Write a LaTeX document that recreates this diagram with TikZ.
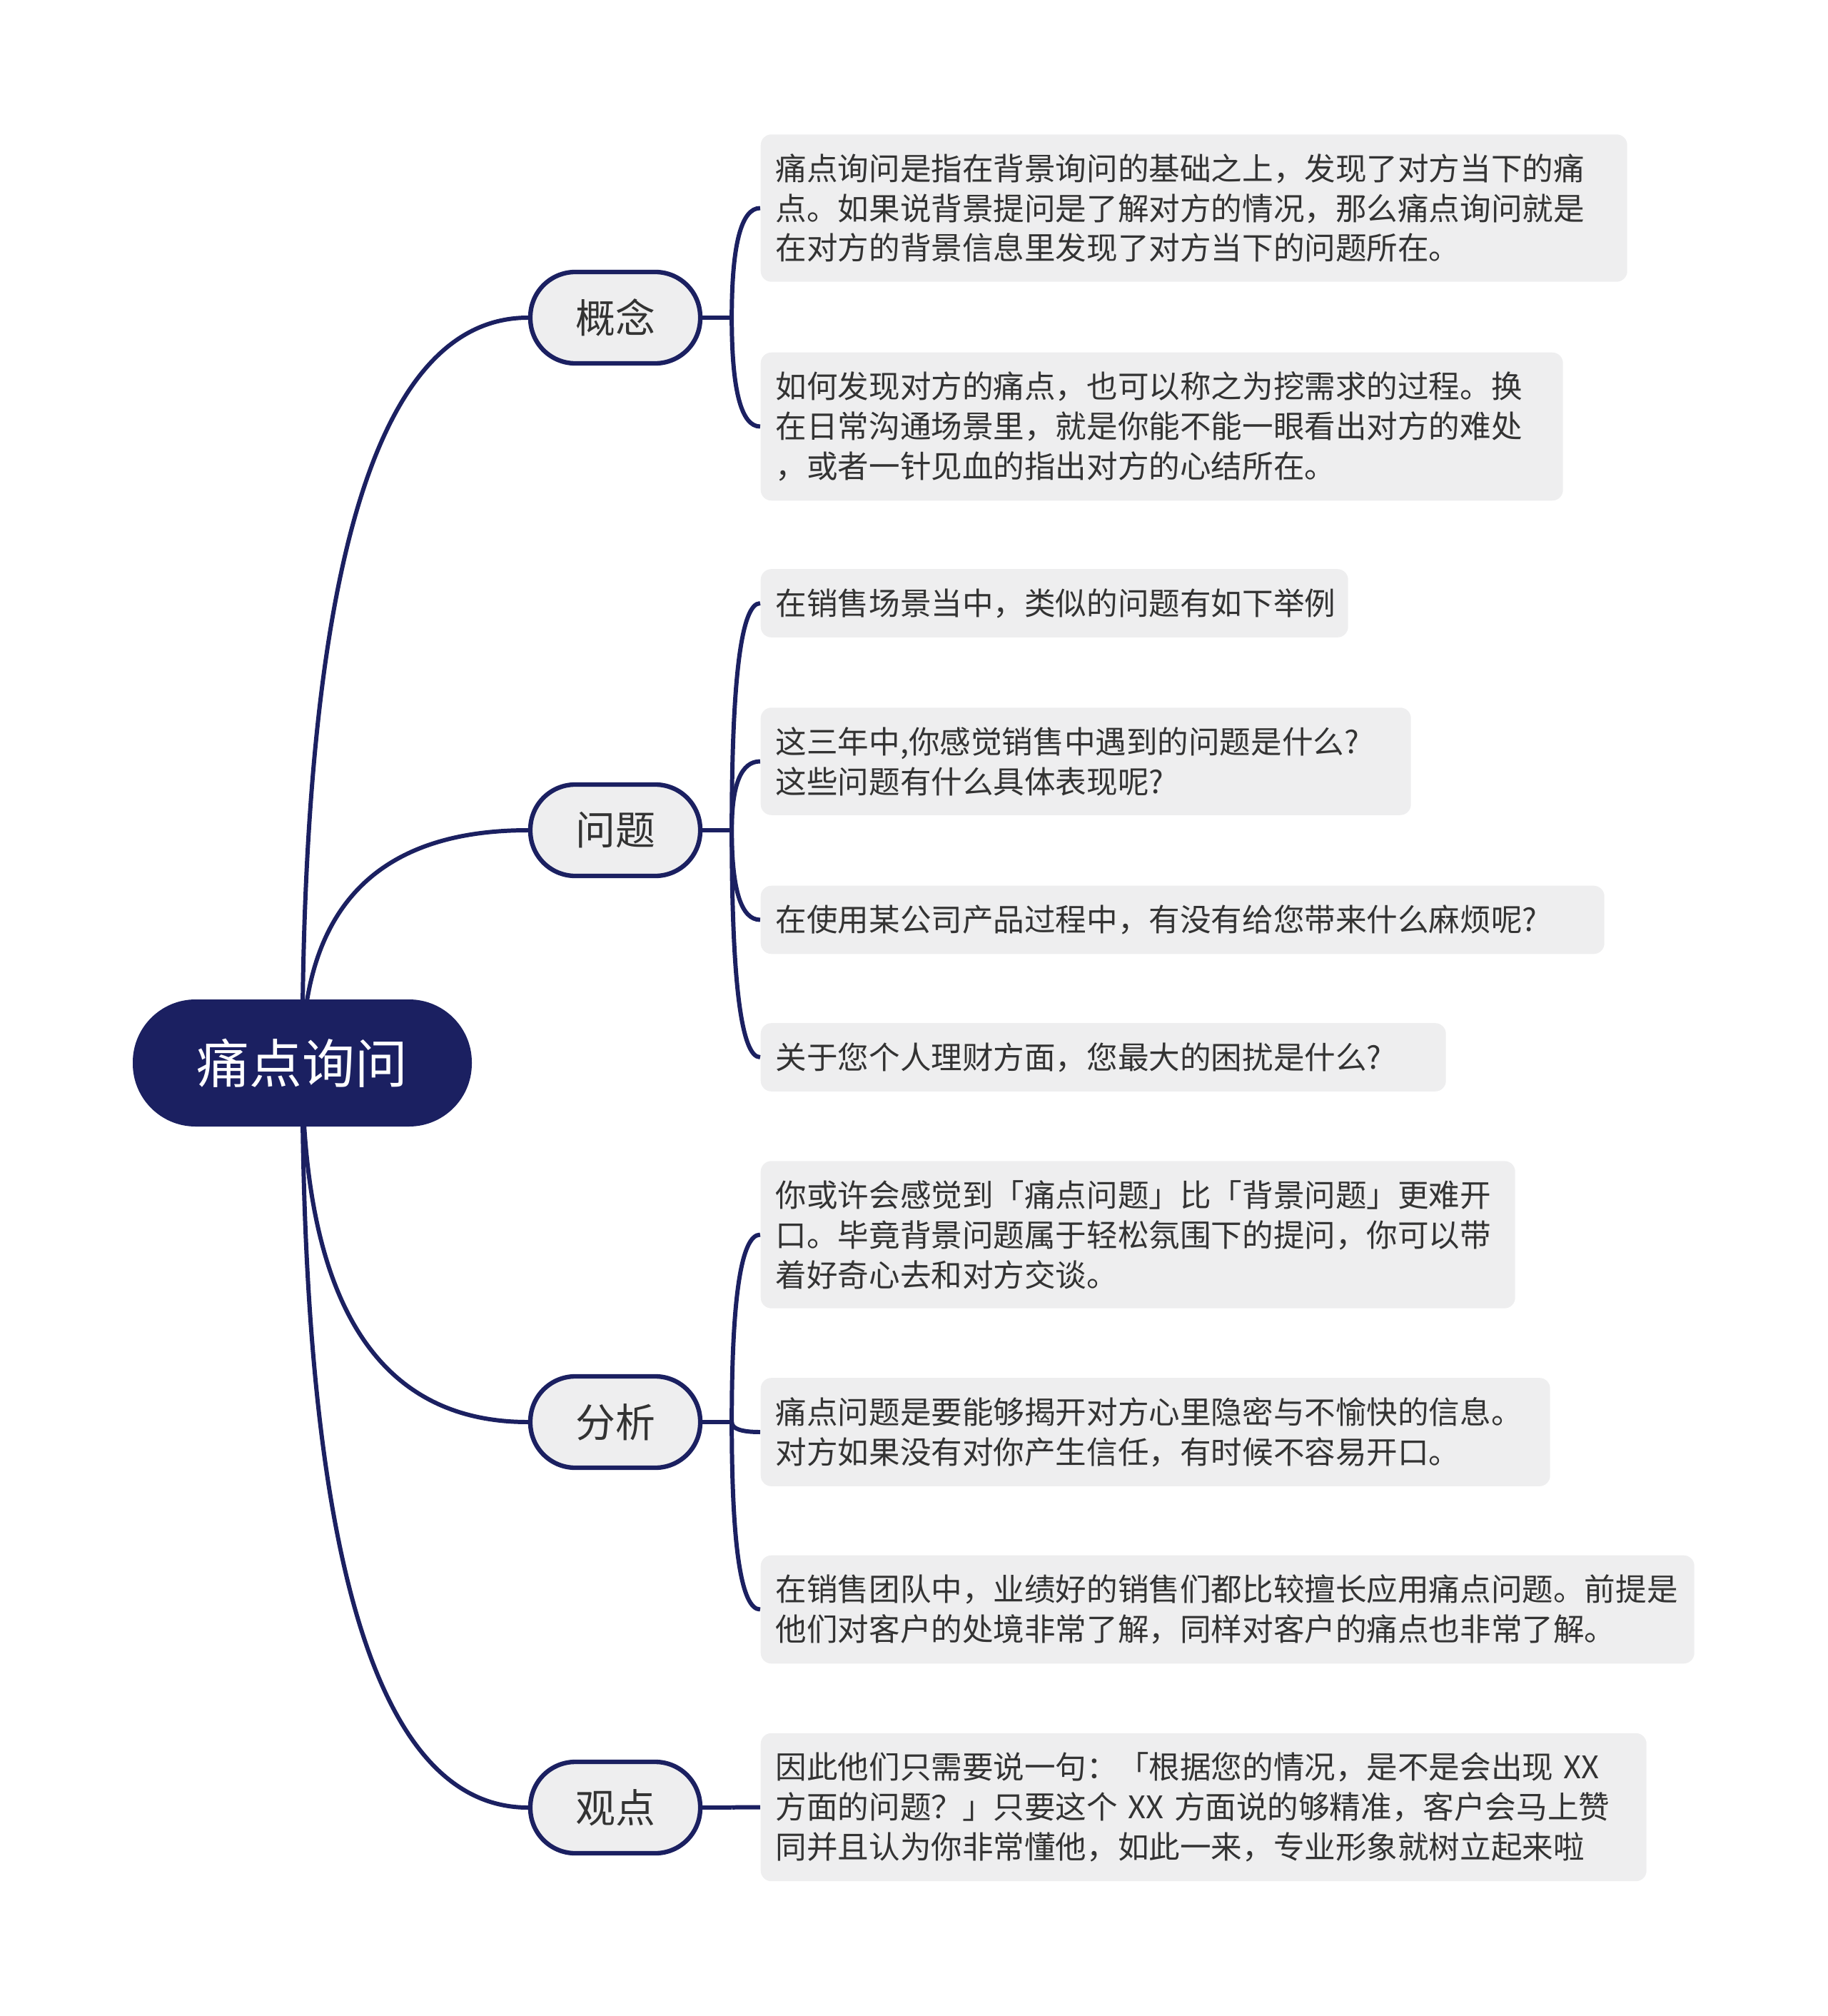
\documentclass[tikz,border=0pt]{standalone}
\usepackage{fontspec}
\newfontfamily\cjk{Noto Sans CJK SC}
\usepackage{xcolor}
\definecolor{navy-900}{RGB}{27,32,97}
\definecolor{gray-100}{RGB}{238,238,239}
\definecolor{gray-800}{RGB}{51,51,51}
\usetikzlibrary{calc,backgrounds}

\begin{document}
\begin{tikzpicture}[
    root box/.style={
        fill=navy-900,
        text=white,
        rounded corners=0.88cm,
        minimum width=4.75cm,
        minimum height=1.78cm,
        font=\cjk\fontsize{21pt}{25pt}\selectfont
    },
    topic box/.style={
        draw=navy-900,
        line width=1.8pt,
        fill=gray-100,
        text=gray-800,
        rounded corners=0.63cm,
        minimum width=2.38cm,
        minimum height=1.28cm,
        font=\cjk\fontsize{15.9pt}{19pt}\selectfont
    },
    leaf box/.style={
        fill=gray-100,
        text=gray-800,
        rounded corners=0.15cm,
        anchor=west,
        inner xsep=0.21cm,
        inner ysep=7.7pt,
        align=left,
        font=\cjk\fontsize{12.4pt}{15.9pt}\selectfont
    },
    branch/.style={
        draw=navy-900,
        line width=1.7pt,
        to path={.. controls ($(\tikztostart)!0.667!(\tikztostart |- \tikztotarget)$)
            and ($(\tikztotarget)!0.667!(\tikztostart |- \tikztotarget)$) .. (\tikztotarget)}
    }
]

\useasboundingbox (0,0) rectangle (25.6,-28.24);

% Root
\node[root box] (root) at (4.235, -14.89) {痛点询问};

% Topic 1 - 概念
\node[topic box] (k1) at (8.62, -4.45) {概念};
\coordinate (j1) at ([xshift=0.41cm]k1.east);
\node[leaf box, text width=11.72cm] (l1) at (10.65, -2.915) {痛点询问是指在背景询问的基础之上，发现了对方当下的痛\\点。如果说背景提问是了解对方的情况，那么痛点询问就是\\在对方的背景信息里发现了对方当下的问题所在。};
\node[leaf box, text width=10.82cm] (l2) at (10.65, -5.975) {如何发现对方的痛点，也可以称之为挖需求的过程。换\\在日常沟通场景里，就是你能不能一眼看出对方的难处\\，或者一针见血的指出对方的心结所在。};

% Topic 2 - 问题
\node[topic box] (k2) at (8.62, -11.63) {问题};
\coordinate (j2) at ([xshift=0.41cm]k2.east);
\node[leaf box, text width=7.81cm] (l3) at (10.65, -8.45) {在销售场景当中，类似的问题有如下举例};
\node[leaf box, text width=8.69cm] (l4) at (10.65, -10.665) {这三年中,你感觉销售中遇到的问题是什么?\\这些问题有什么具体表现呢?};
\node[leaf box, text width=11.40cm] (l5) at (10.65, -12.885) {在使用某公司产品过程中，有没有给您带来什么麻烦呢?};
\node[leaf box, text width=9.18cm] (l6) at (10.65, -14.81) {关于您个人理财方面，您最大的困扰是什么?};

% Topic 3 - 分析
\node[topic box] (k3) at (8.62, -19.92) {分析};
\coordinate (j3) at ([xshift=0.41cm]k3.east);
\node[leaf box, text width=10.15cm] (l7) at (10.65, -17.295) {你或许会感觉到「痛点问题」比「背景问题」更难开\\口。毕竟背景问题属于轻松氛围下的提问，你可以带\\着好奇心去和对方交谈。};
\node[leaf box, text width=10.64cm] (l8) at (10.65, -20.06) {痛点问题是要能够揭开对方心里隐密与不愉快的信息。\\对方如果没有对你产生信任，有时候不容易开口。};
\node[leaf box, text width=12.66cm] (l9) at (10.65, -22.545) {在销售团队中，业绩好的销售们都比较擅长应用痛点问题。前提是\\他们对客户的处境非常了解，同样对客户的痛点也非常了解。};

% Topic 4 - 观点
\node[topic box] (k4) at (8.62, -25.32) {观点};
\coordinate (j4) at ([xshift=0.41cm]k4.east);
\node[leaf box, text width=11.99cm] (l10) at (10.65, -25.315) {因此他们只需要说一句：「根据您的情况，是不是会出现~XX\\方面的问题？」只要这个~XX~方面说的够精准，客户会马上赞\\同并且认为你非常懂他，如此一来，专业形象就树立起来啦};

% Connectors behind the boxes
\begin{scope}[on background layer]
\draw[branch] (root.center) to (k1.west);
\draw[branch] (root.center) to (k2.west);
\draw[branch] (root.center) to (k3.west);
\draw[branch] (root.center) to (k4.west);

\draw[branch] (k1.east) -- (j1);
\draw[branch] (j1) to (l1.west);
\draw[branch] (j1) to (l2.west);

\draw[branch] (k2.east) -- (j2);
\draw[branch] (j2) to (l3.west);
\draw[branch] (j2) to (l4.west);
\draw[branch] (j2) to (l5.west);
\draw[branch] (j2) to (l6.west);

\draw[branch] (k3.east) -- (j3);
\draw[branch] (j3) to (l7.west);
\draw[branch] (j3) to (l8.west);
\draw[branch] (j3) to (l9.west);

\draw[branch] (k4.east) -- (j4);
\draw[branch] (j4) to (l10.west);
\end{scope}

\end{tikzpicture}
\end{document}
